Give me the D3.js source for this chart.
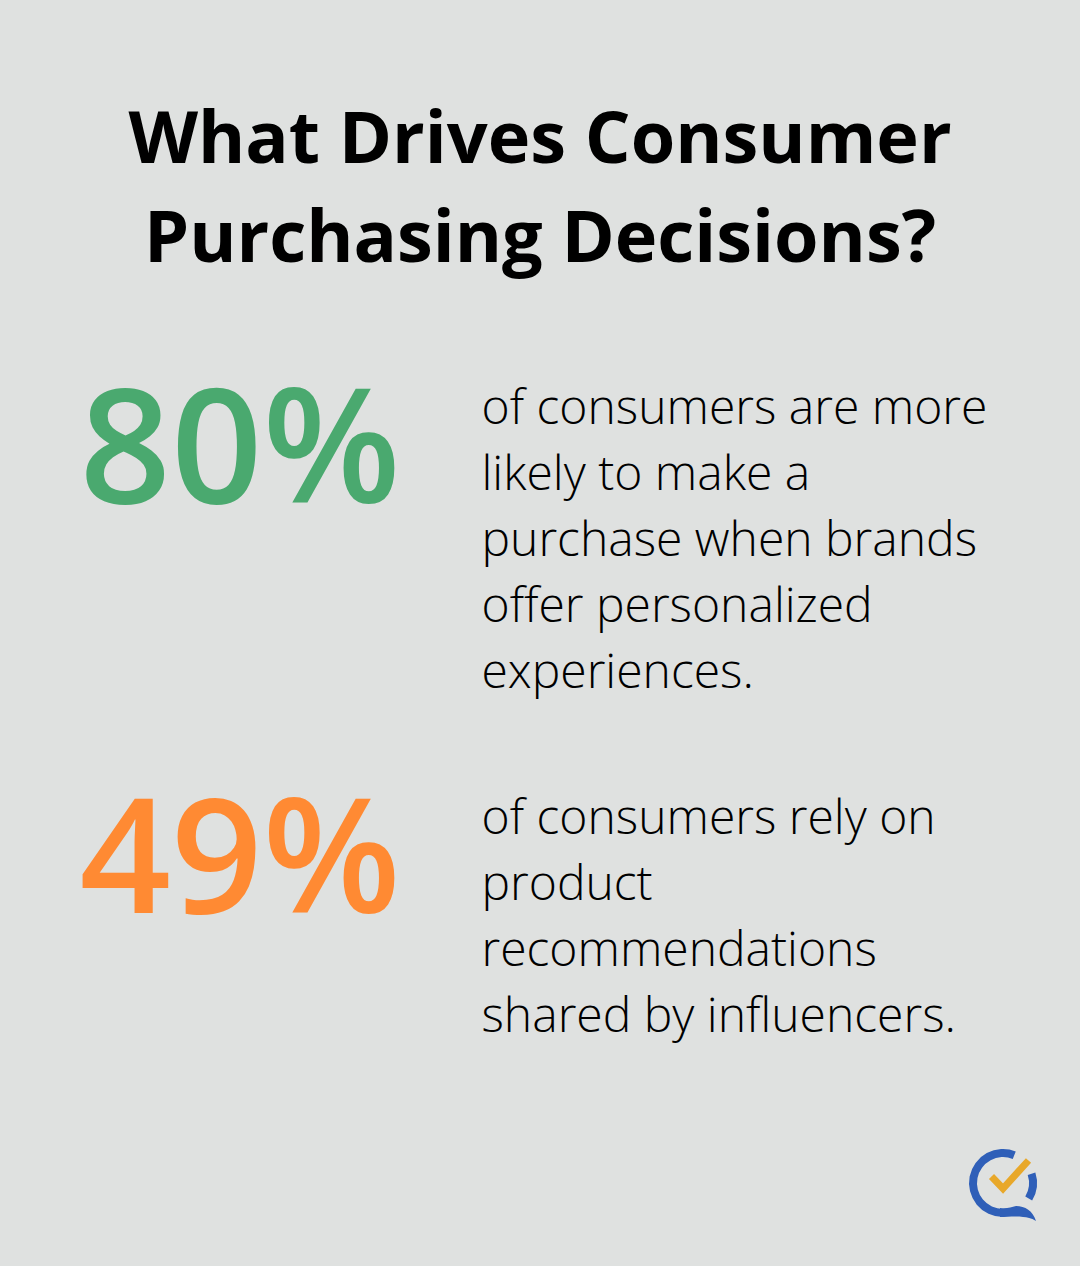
<!DOCTYPE html>
<html>
<head>
<meta charset="utf-8">
<script src="https://cdn.jsdelivr.net/npm/d3@7"></script>
<style>
  html, body { margin: 0; padding: 0; background: #dfe1e0; }
  text { font-family: "Open Sans", sans-serif; }
</style>
</head>
<body>
<div id="chart"></div>
<script>
// Chart content
const titleLines = ["What Drives Consumer", "Purchasing Decisions?"];
const statValues = ["80%", "49%"];
const statColors = ["#4aa96f", "#ff8a33"];
const statLines = [
    ["of consumers are more", "likely to make a", "purchase when brands", "offer personalized", "experiences."],
    ["of consumers rely on", "product", "recommendations", "shared by influencers."]
];

const width = 1080;
const height = 1266;

const svg = d3.select("#chart")
    .append("svg")
    .attr("width", width)
    .attr("height", height)
    .style("display", "block");

svg.append("rect")
    .attr("width", width)
    .attr("height", height)
    .attr("fill", "#dfe1e0");

// Title
svg.selectAll(".title")
    .data(titleLines)
    .enter().append("text")
    .attr("class", "title")
    .attr("x", 540)
    .attr("y", (d, i) => 163 + i * 99)
    .attr("text-anchor", "middle")
    .attr("font-size", 72)
    .attr("font-weight", 700)
    .attr("fill", "#000")
    .text(d => d);

// One block per statistic
const blockTop = [0, 410];
statValues.forEach((value, i) => {
    svg.append("text")
        .attr("x", 240)
        .attr("y", 503 + blockTop[i])
        .attr("text-anchor", "middle")
        .attr("font-size", 160)
        .attr("font-weight", 600)
        .attr("fill", statColors[i])
        .text(value);

    svg.selectAll(".line" + i)
        .data(statLines[i])
        .enter().append("text")
        .attr("class", "line" + i)
        .attr("x", 481.5)
        .attr("y", (d, j) => 424 + blockTop[i] + j * 66)
        .attr("font-size", 48)
        .attr("font-weight", 300)
        .attr("fill", "#000")
        .text(d => d);
});

// Logo
const deg = Math.PI / 180;
const logo = svg.append("g").attr("transform", "translate(1003,1183)");
const ring = d3.arc().innerRadius(26).outerRadius(34);
logo.append("path")
    .attr("d", ring({ startAngle: -180 * deg, endAngle: 22 * deg }))
    .attr("fill", "#2f5fb8");
logo.append("path")
    .attr("d", ring({ startAngle: 72 * deg, endAngle: 121 * deg }))
    .attr("fill", "#2f5fb8");
// speech bubble tail
logo.append("path")
    .attr("d", "M-3 25 C4 26 8 24 13 23 C22 23 30 28 33 38 C28 35 24 34 20 34 C12 33 5 34 -3 34 Z")
    .attr("fill", "#2f5fb8");
logo.append("path")
    .attr("d", "M-11.5 -6.5 L0 5.5 L25.5 -22.5")
    .attr("fill", "none")
    .attr("stroke", "#e8a82a")
    .attr("stroke-width", 7);
</script>
</body>
</html>
